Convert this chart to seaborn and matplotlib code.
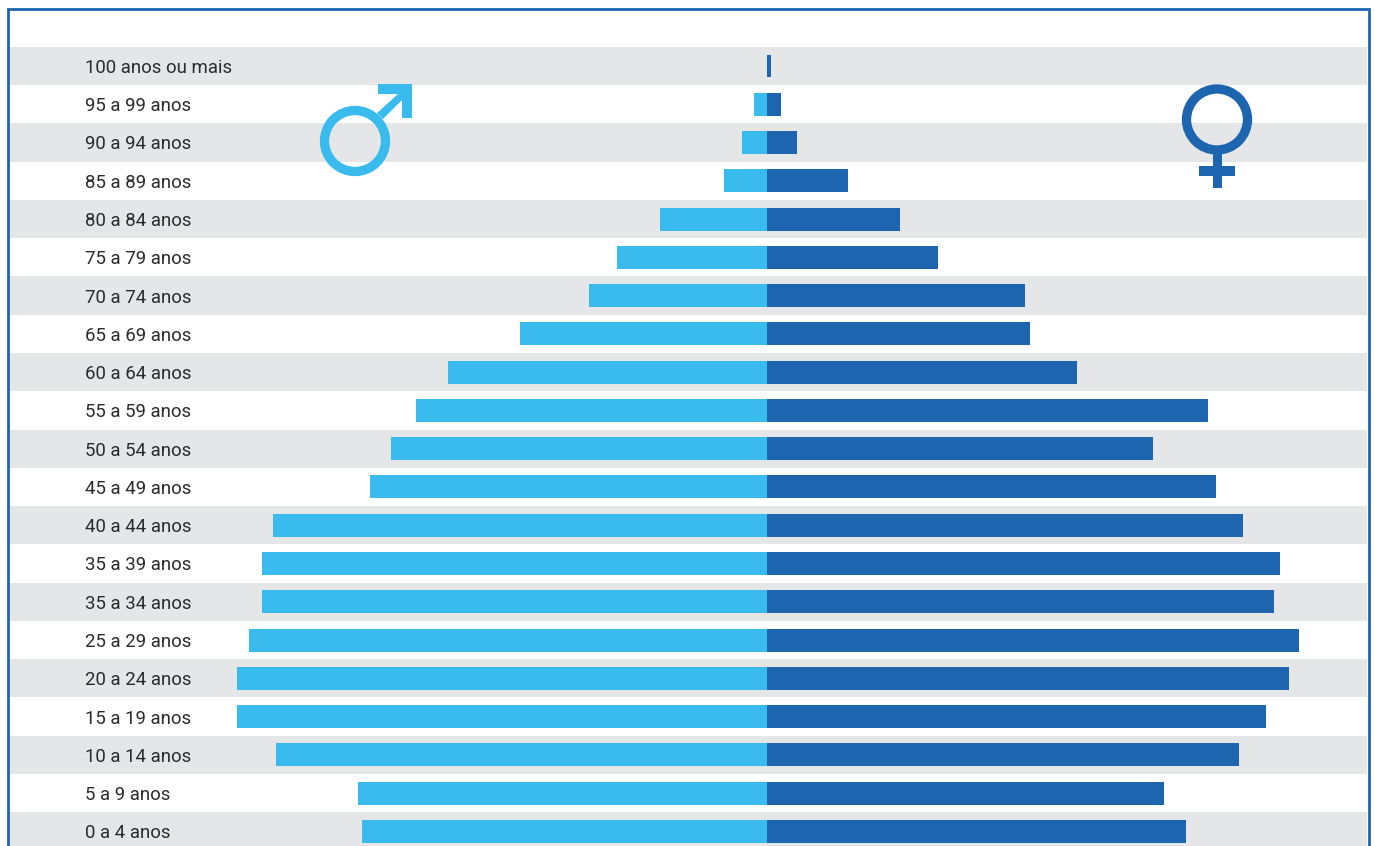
import matplotlib
matplotlib.use("Agg")
import matplotlib.pyplot as plt
from matplotlib.patches import Circle, Rectangle, Polygon
from matplotlib.transforms import Affine2D
import pandas as pd
import seaborn as sns

idades = ["100 anos ou mais", "95 a 99 anos", "90 a 94 anos", "85 a 89 anos", "80 a 84 anos",
          "75 a 79 anos", "70 a 74 anos", "65 a 69 anos", "60 a 64 anos", "55 a 59 anos",
          "50 a 54 anos", "45 a 49 anos", "40 a 44 anos", "35 a 39 anos", "35 a 34 anos",
          "25 a 29 anos", "20 a 24 anos", "15 a 19 anos", "10 a 14 anos", "5 a 9 anos", "0 a 4 anos"]
# no scale on the original, values are read as bar lengths
homens = [0, 13, 25, 43, 107, 150, 178, 247, 319, 351, 376, 397, 494, 505, 505, 518, 530, 530, 491, 409, 405]
mulheres = [4, 14, 30, 81, 133, 171, 258, 263, 310, 441, 386, 449, 476, 513, 507, 532, 522, 499, 472, 397, 419]

AZUL_CLARO = "#39bbed"
AZUL = "#1e65b0"
CINZA = "#e5e6e8"
W, H = 1375, 846

df = pd.DataFrame({
    "idade": idades * 2,
    "valor": [-v for v in homens] + mulheres,
    "sexo": ["H"] * len(idades) + ["M"] * len(idades),
})

sns.set_theme(style="white")
plt.rcParams["font.family"] = ["Roboto", "DejaVu Sans"]

fig = plt.figure(figsize=(W / 100, H / 100), dpi=100)
ax = fig.add_axes([0, 0, 1, 1])
sns.barplot(data=df, y="idade", x="valor", hue="sexo", order=idades, dodge=False, width=0.6,
            palette={"H": AZUL_CLARO, "M": AZUL}, legend=False, saturation=1, linewidth=0, ax=ax, zorder=3)
ax.set_xlim(-767, W - 767)
ax.set_ylim((H - 66) / 38.27, -66 / 38.27)
ax.axis("off")

for i, nome in enumerate(idades):
    if i % 2 == 0:
        ax.axhspan(i - 0.5, i + 0.5, xmin=9 / W, xmax=1367 / W, color=CINZA, lw=0, zorder=0)
    ax.text(-682, i + 0.05, nome, va="center", ha="left", fontsize=13.4, color="#2b2b2b")

# pixel coordinates from the top left, for the frame and the two symbols
px = Affine2D().scale(1, -1).translate(0, H)


def add(patch):
    patch.set_transform(px)
    patch.set_clip_on(False)
    fig.add_artist(patch)


# moldura, open at the bottom
fig.add_artist(plt.Line2D([8, 8, 1368.5, 1368.5], [H, 8.8, 8.8, H], transform=px, color=AZUL, lw=2.0,
                          solid_joinstyle="miter"))

# masculino
add(Circle((355, 141), 30.5, fill=False, ec=AZUL_CLARO, lw=6.7))
add(Polygon([(378, 84), (412, 84), (412, 118), (402, 118), (402, 100), (383, 119), (377, 113), (398, 94), (378, 94)],
            closed=True, fc=AZUL_CLARO, ec="none"))

# feminino
add(Circle((1217, 119.5), 30.5, fill=False, ec=AZUL, lw=6.7))
add(Rectangle((1212.5, 153), 9.5, 35, fc=AZUL, ec="none"))
add(Rectangle((1199, 166), 36, 9.5, fc=AZUL, ec="none"))

fig.savefig("out.png", dpi=100, facecolor="white")
